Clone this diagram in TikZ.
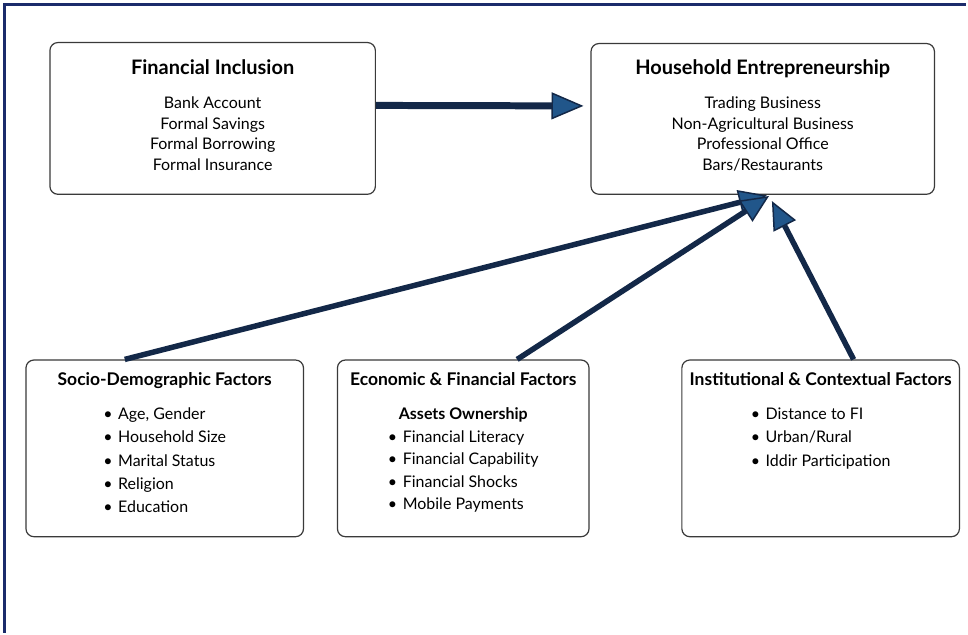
\documentclass[tikz,border=0pt]{standalone}
\usepackage{fontspec}
\setmainfont{Lato}
\usetikzlibrary{arrows.meta}
\definecolor{framenavy}{HTML}{1B2B6B}
\definecolor{arrownavy}{HTML}{132848}
\definecolor{headblue}{HTML}{21568A}
\definecolor{boxline}{HTML}{3A3A3A}

\newcommand{\headfont}{\bfseries\fontsize{20}{22}\selectfont}
\newcommand{\subheadfont}{\bfseries\fontsize{17.5}{20}\selectfont}
\newcommand{\itemfont}{\fontsize{16}{20.5}\selectfont}
\newcommand{\listfont}{\fontsize{16}{23.3}\selectfont}
\newcommand{\bitem}{\textbullet\hspace{0.35em}}

\begin{document}
\begin{tikzpicture}[x=1pt,y=-1pt,
	box/.style={draw=boxline,line width=1.2pt,rounded corners=8pt,fill=white,inner sep=0pt,anchor=north},
	link/.style={draw=arrownavy,line width=5.5pt,
		-{Triangle[length=28pt,width=25pt,line width=1.5pt,fill=headblue]}}
	]

	% page and frame
	\fill[white] (0,0) rectangle (968,634);
	\draw[framenavy,line width=3.2pt] (4.5,634) -- (4.5,4.5) -- (968,4.5);

	% top row
	\node[box] (fi) at (213,42) {\begin{minipage}[c][152pt][t]{326pt}\centering
		\vspace*{17.5pt}
		{\headfont Financial Inclusion}\par\vspace{13.5pt}
		{\itemfont Bank Account\\Formal Savings\\Formal Borrowing\\Formal Insurance\par}
		\end{minipage}};
	\node[box] (he) at (764,43) {\begin{minipage}[c][151pt][t]{344pt}\centering
		\vspace*{16.5pt}
		{\headfont Household Entrepreneurship}\par\vspace{13.5pt}
		{\itemfont Trading Business\\Non-Agricultural Business\\Professional Office\\Bars/Restaurants\par}
		\end{minipage}};

	% factor boxes
	\node[box] (sd) at (165,360) {\begin{minipage}[c][177pt][t]{278pt}\centering
		\vspace*{12.5pt}
		{\subheadfont Socio-Demographic Factors}\par\vspace{11pt}
		{\listfont\begin{tabular}[t]{@{}l@{}}
			\bitem Age, Gender\\
			\bitem Household Size\\
			\bitem Marital Status\\
			\bitem Religion\\
			\bitem Education
		\end{tabular}\par}
		\end{minipage}};
	\node[box] (ef) at (464,360) {\begin{minipage}[c][177pt][t]{252pt}\centering
		\vspace*{12.5pt}
		{\subheadfont Economic \& Financial Factors}\par\vspace{11pt}
		{\listfont\bfseries Assets Ownership\par}
		{\fontsize{16}{22.5}\selectfont\begin{tabular}[t]{@{}l@{}}
			\bitem Financial Literacy\\
			\bitem Financial Capability\\
			\bitem Financial Shocks\\
			\bitem Mobile Payments
		\end{tabular}\par}
		\end{minipage}};
	\node[box] (ic) at (822,360) {\begin{minipage}[c][177pt][t]{278pt}\centering
		\vspace*{12.5pt}
		{\subheadfont Institutional \& Contextual Factors}\par\vspace{11pt}
		{\listfont\begin{tabular}[t]{@{}l@{}}
			\bitem Distance to FI\\
			\bitem Urban/Rural\\
			\bitem Iddir Participation
		\end{tabular}\par}
		\end{minipage}};

	% arrows
	\draw[link,line width=7pt,-{Triangle[length=32pt,width=27pt,line width=1.5pt,fill=headblue]},shorten >=7pt]
		([yshift=13pt]fi.east) -- ([yshift=13pt]he.west);
	\draw[link,shorten >=2pt] ([xshift=-40pt]sd.north) -- ([xshift=6pt]he.south);
	\draw[link,shorten >=2pt] ([xshift=54pt]ef.north) -- ([xshift=8pt]he.south);
	\draw[link,shorten >=7pt] ([xshift=33pt]ic.north) -- ([xshift=6pt]he.south);

\end{tikzpicture}
\end{document}
